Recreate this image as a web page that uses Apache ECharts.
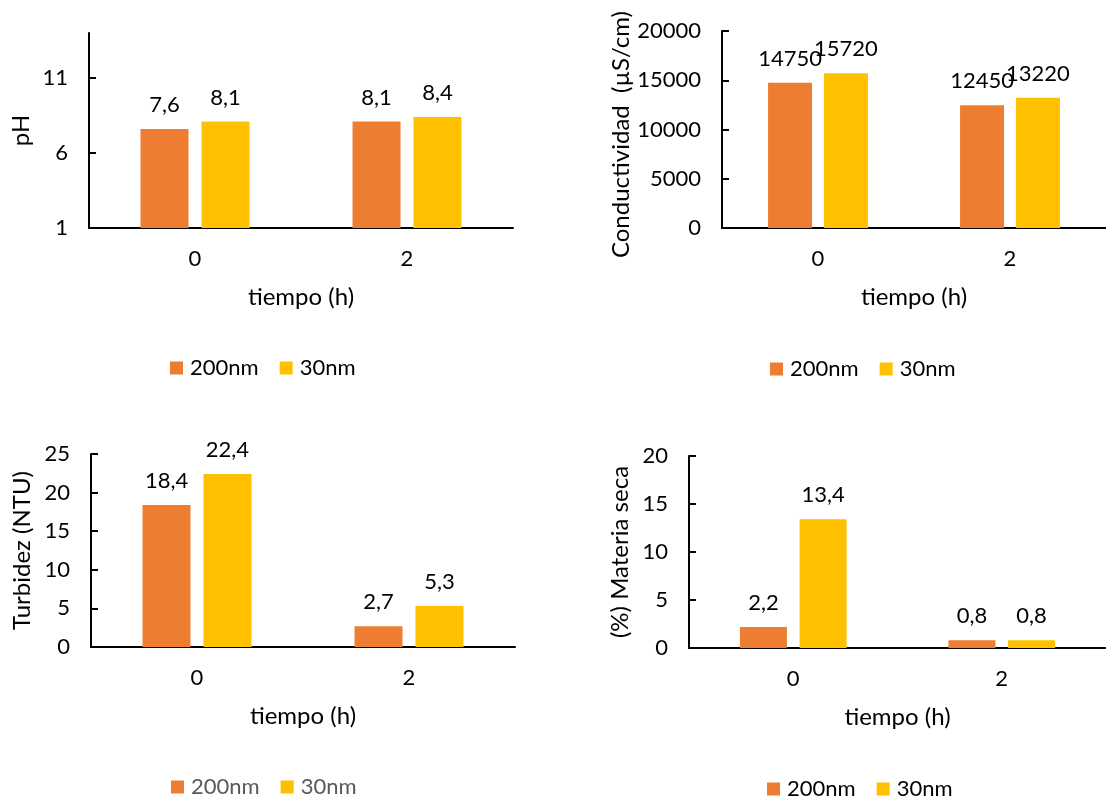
<!DOCTYPE html>
<html>
<head>
<meta charset="utf-8">
<script src="https://cdn.jsdelivr.net/npm/echarts@6/dist/echarts.min.js"></script>
<style>
html,body{margin:0;padding:0;background:#fff;}
#c{width:1106px;height:798px;}
</style>
</head>
<body>
<div id="c"></div>
<script>
const categories = ['0', '2'];
const seriesNames = ['200nm', '30nm'];
const phA = [7.6, 8.1];
const phB = [8.1, 8.4];
const condA = [14750, 12450];
const condB = [15720, 13220];
const turbA = [18.4, 2.7];
const turbB = [22.4, 5.3];
const msA = [2.2, 0.8];
const msB = [13.4, 0.8];
const phTicks = [1, 6, 11];

const FONT = 'Lato';
const FS = 22;
const FT = 24;
const ORANGE = '#ED7D31';
const YELLOW = '#FFC000';

const grids = [
  {left: 89, top: 33, width: 424, height: 195},
  {left: 722, top: 31, width: 396, height: 197},
  {left: 91, top: 454, width: 424, height: 193},
  {left: 689, top: 456, width: 418, height: 192}
];

function plain(v) { return String(v); }

function xAxis(i) {
  return {
    type: 'category', gridIndex: i, data: categories,
    axisLine: {lineStyle: {color: '#000', width: 2}},
    axisTick: {show: false},
    axisLabel: {color: '#000', fontFamily: FONT, fontSize: FS, margin: 20},
    name: 'tiempo (h)', nameLocation: 'middle', nameGap: 57,
    nameTextStyle: {color: '#000', fontFamily: FONT, fontSize: FT}
  };
}
function yAxis(i, name, min, max, interval, gap, extra) {
  const a = {
    type: 'value', gridIndex: i, min: min, max: max, interval: interval,
    splitLine: {show: false},
    axisLine: {show: true, lineStyle: {color: '#000', width: 2}},
    axisTick: {show: true, inside: true, length: 7, lineStyle: {color: '#000', width: 2}},
    axisLabel: {color: '#000', fontFamily: FONT, fontSize: FS, margin: 21, formatter: plain},
    name: name, nameLocation: 'middle', nameGap: gap,
    nameTextStyle: {color: '#000', fontFamily: FONT, fontSize: FT}
  };
  return Object.assign(a, extra || {});
}
function labelFmt(p) {
  return String(p.value).replace('.', ',');
}
function bar(i, name, data, color, width, gap) {
  return {
    type: 'bar', name: name, xAxisIndex: i, yAxisIndex: i, data: data,
    barWidth: width, barGap: gap,
    itemStyle: {color: color},
    label: {show: true, position: 'top', distance: 13, color: '#000',
      fontFamily: FONT, fontSize: FS, formatter: labelFmt}
  };
}
function legend(left, top, color) {
  return {
    left: left, top: top, padding: 0, itemWidth: 13, itemHeight: 13, itemGap: 21,
    icon: 'rect', data: seriesNames,
    textStyle: {color: color, fontFamily: FONT, fontSize: FS, padding: [0, 0, 0, 2]}
  };
}

const chart = echarts.init(document.getElementById('c'), null, {renderer: 'canvas'});
chart.setOption({
  animation: false,
  backgroundColor: '#fff',
  grid: grids,
  legend: [
    legend(170, 357, '#000'),
    legend(770, 358, '#000'),
    legend(171, 776, '#595959'),
    legend(767, 778, '#000')
  ],
  xAxis: [xAxis(0), xAxis(1), xAxis(2), xAxis(3)],
  yAxis: [
    yAxis(0, 'pH', 1, 14, 5, 56, {
      axisTick: {show: true, inside: true, length: 7, lineStyle: {color: '#000', width: 2}, customValues: phTicks},
      axisLabel: {color: '#000', fontFamily: FONT, fontSize: FS, margin: 21, formatter: plain, customValues: phTicks}
    }),
    yAxis(1, 'Conductividad  (µS/cm)', 0, 20000, 5000, 86, {
      nameTextStyle: {color: '#000', fontFamily: FONT, fontSize: FT, padding: [0, 10, 0, 0]}
    }),
    yAxis(2, 'Turbidez (NTU)', 0, 25, 5, 57),
    yAxis(3, '(%) Materia seca', 0, 20, 5, 57)
  ],
  series: [
    bar(0, seriesNames[0], phA, ORANGE, 48, '27%'),
    bar(0, seriesNames[1], phB, YELLOW, 48, '27%'),
    bar(1, seriesNames[0], condA, ORANGE, 44, '27%'),
    bar(1, seriesNames[1], condB, YELLOW, 44, '27%'),
    bar(2, seriesNames[0], turbA, ORANGE, 48, '27%'),
    bar(2, seriesNames[1], turbB, YELLOW, 48, '27%'),
    bar(3, seriesNames[0], msA, ORANGE, 47, '27%'),
    bar(3, seriesNames[1], msB, YELLOW, 47, '27%')
  ]
});
</script>
</body>
</html>
